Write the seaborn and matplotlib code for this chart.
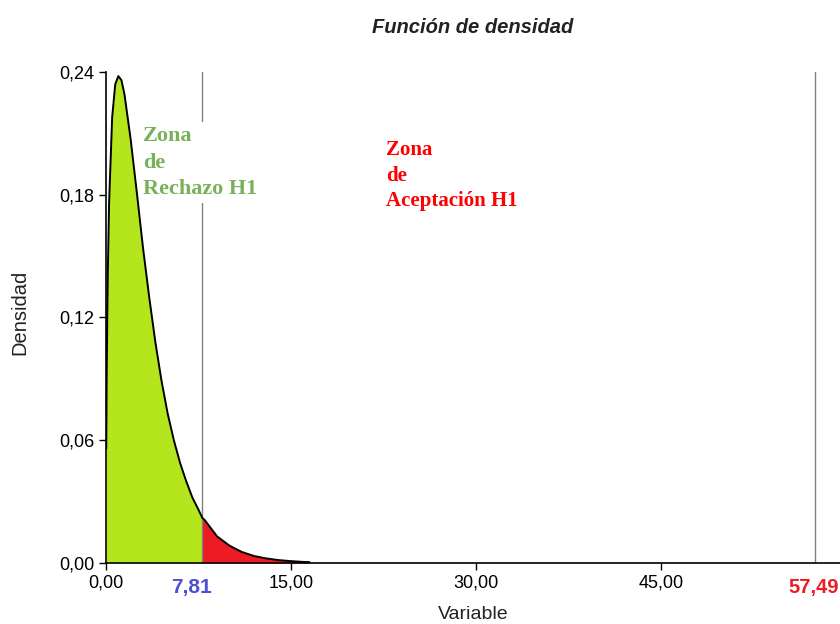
import numpy as np
import pandas as pd
import matplotlib
matplotlib.use('Agg')
import matplotlib.pyplot as plt
import matplotlib.transforms as mtransforms
import seaborn as sns

# density curve (chi-square shape, peak ~0.24 at x=1)
x_vals = [0.02, 0.05, 0.10, 0.15, 0.25, 0.50, 0.75, 1.00, 1.25, 1.50, 2.00, 2.50,
          3.00, 3.50, 4.00, 4.50, 5.00, 5.50, 6.00, 6.50, 7.00, 7.50, 7.81, 8.00,
          9.00, 10.00, 11.00, 12.00, 13.00, 14.00, 15.00, 16.00, 16.50]
dens = [0.056, 0.087, 0.120, 0.143, 0.176, 0.218, 0.234, 0.238, 0.236, 0.229, 0.207,
        0.181, 0.154, 0.130, 0.108, 0.089, 0.073, 0.060, 0.049, 0.040, 0.032, 0.026,
        0.022, 0.021, 0.013, 0.0085, 0.0054, 0.0034, 0.0022, 0.0014, 0.0009, 0.0005,
        0.0004]
crit_low = 7.81
crit_high = 57.49
x_ticks = [0, 15, 30, 45]
x_ticklabels = ["0,00", "15,00", "30,00", "45,00"]
y_ticks = [0.0, 0.06, 0.12, 0.18, 0.24]
y_ticklabels = ["0,00", "0,06", "0,12", "0,18", "0,24"]

df = pd.DataFrame({"Variable": x_vals, "Densidad": dens})

sns.set_style("ticks")
plt.rcParams['font.family'] = ['Liberation Sans', 'DejaVu Sans']

fig = plt.figure(figsize=(8.4, 6.24), dpi=100)
ax = fig.add_axes([0.1262, 0.0978, 0.8738, 0.7868])

x = df["Variable"].values
y = df["Densidad"].values
ax.fill_between(x, 0, y, where=x <= crit_low, color='#b5e61d', lw=0, interpolate=True)
ax.fill_between(x, 0, y, where=x >= crit_low, color='#ed1c24', lw=0, interpolate=True)
sns.lineplot(data=df, x="Variable", y="Densidad", color='black', lw=1.4, ax=ax)

ax.axvline(crit_low, color='#808080', lw=1, zorder=1.5)
ax.axvline(crit_high, color='#808080', lw=1, zorder=1.5)

ax.set_xlim(0, 59.5)
ax.set_ylim(0, 0.24)
ax.set_xticks(x_ticks)
ax.set_xticklabels(x_ticklabels)
ax.set_yticks(y_ticks)
ax.set_yticklabels(y_ticklabels)
ax.tick_params(labelsize=13, length=5, width=1, colors='black')
sns.despine(ax=ax)
for s in ['left', 'bottom']:
    ax.spines[s].set_linewidth(1.2)
    ax.spines[s].set_color('black')

# critical values written under the axis (slightly left of their lines)
trans = mtransforms.blended_transform_factory(ax.transData, ax.transAxes)
shift = mtransforms.ScaledTranslation(-11 / 100, 0, fig.dpi_scale_trans)
ax.text(crit_low, -0.03, "7,81", transform=trans + shift, ha='center', va='top',
        color='#4f4fd6', fontsize=15, fontweight='bold')
ax.text(0.9985, -0.03, "57,49", transform=ax.transAxes, ha='right', va='top',
        color='#ed1c24', fontsize=14.5, fontweight='bold')

ax.set_xlabel("Variable", fontsize=14, labelpad=10, color='#222222')
ax.set_ylabel("Densidad", fontsize=14.5, color='#222222')
ax.yaxis.set_label_coords(-0.105, 0.51)
ax.set_title("Función de densidad", fontsize=14.5, fontweight='bold',
             style='italic', pad=28, color='#222222')

ax.text(3.0, 0.2135, "Zona\nde\nRechazo H1", family='Liberation Serif',
        fontweight='bold', fontsize=16, color='#78b15a', va='top', ha='left',
        linespacing=1.42,
        bbox=dict(facecolor='white', edgecolor='none', pad=3))
ax.text(22.7, 0.2066, "Zona\nde\nAceptación H1", family='Liberation Serif',
        fontweight='bold', fontsize=15, color='#ff0000', va='top', ha='left',
        linespacing=1.36)

fig.savefig("out.png", dpi=100)
